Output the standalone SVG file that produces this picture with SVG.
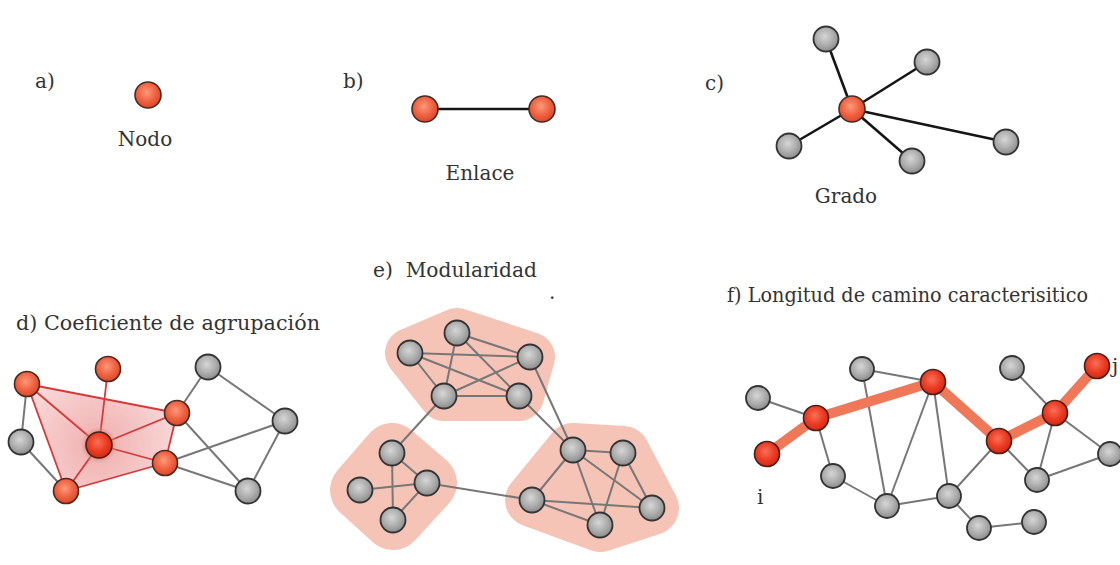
<svg xmlns="http://www.w3.org/2000/svg" width="1120" height="565" viewBox="0 0 1120 565">
<defs>
<radialGradient id="gRed" cx="45%" cy="40%" r="60%">
<stop offset="0" stop-color="#fb9a7a"/><stop offset="0.6" stop-color="#ef6040"/><stop offset="1" stop-color="#d9472a"/>
</radialGradient>
<radialGradient id="gHot" cx="45%" cy="40%" r="60%">
<stop offset="0" stop-color="#f87058"/><stop offset="0.6" stop-color="#ec3a22"/><stop offset="1" stop-color="#cf2a14"/>
</radialGradient>
<radialGradient id="gGray" cx="45%" cy="40%" r="60%">
<stop offset="0" stop-color="#d6d6d6"/><stop offset="0.6" stop-color="#acacac"/><stop offset="1" stop-color="#8c8c8c"/>
</radialGradient>
<radialGradient id="gShade" cx="99" cy="445" r="110" gradientUnits="userSpaceOnUse">
<stop offset="0" stop-color="#f1aeae"/><stop offset="1" stop-color="#fbe8e8"/>
</radialGradient>
<radialGradient id="gHalo">
<stop offset="0.6" stop-color="#c86a55" stop-opacity="0.8"/><stop offset="1" stop-color="#e8b0a0" stop-opacity="0"/>
</radialGradient>
</defs>
<style>
.t{font-family:"DejaVu Serif","Liberation Serif",serif;fill:#333;font-size:20px}
.r{fill:url(#gRed);stroke:#4a2a22;stroke-width:1.6}
.h{fill:url(#gHot);stroke:#4a2018;stroke-width:1.6}
.g{fill:url(#gGray);stroke:#333;stroke-width:1.8}
.bk{stroke:#151515;stroke-width:2.6;fill:none}
.gl{stroke:#777;stroke-width:2;fill:none}
.rl{stroke:#d83838;stroke-width:1.8;fill:none}
.pth{stroke:#f07858;stroke-width:10;stroke-linecap:round;stroke-linejoin:round;fill:none}
.blob{fill:#f5c4b6;stroke:#f5c4b6;stroke-linejoin:round}
</style>

<!-- labels -->
<g id="labels">
<text class="t" x="35" y="88">a)</text>
<text class="t" x="145" y="146" text-anchor="middle">Nodo</text>
<text class="t" x="343" y="88">b)</text>
<text class="t" x="480" y="180" text-anchor="middle">Enlace</text>
<text class="t" x="705" y="90">c)</text>
<text class="t" x="846" y="203" text-anchor="middle">Grado</text>
<text class="t" x="16" y="330" textLength="304" lengthAdjust="spacingAndGlyphs">d) Coeficiente de agrupación</text>
<text class="t" x="373" y="277" textLength="164" lengthAdjust="spacingAndGlyphs">e)&#160; Modularidad</text>
<text class="t" x="549" y="299" font-size="16">.</text>
<text class="t" x="727" y="302" textLength="361" lengthAdjust="spacingAndGlyphs">f) Longitud de camino caracterisitico</text>
<text class="t" x="112" y="439">i</text>
<text class="t" x="757" y="504">i</text>
<text class="t" x="1112" y="373">j</text>
</g>

<!-- blobs for modularity -->
<g id="modules">
<polygon class="blob" stroke-width="50" points="410,353 457,333 530,357 519,396 444,396"/>
<polygon class="blob" stroke-width="60" points="392,453 427,483 393,520 360,490"/>
<polygon class="blob" stroke-width="54" points="573,450 623,453 652,508 600,525 532,500"/>
</g>

<!-- clustering shade -->
<polygon id="shade" points="27,384 177,413 165,463 66,491" fill="url(#gShade)"/>

<g id="connectors">
<line class="bk" x1="425" y1="109" x2="542" y2="109"/>
<line class="bk" x1="852" y1="109" x2="826" y2="39"/>
<line class="bk" x1="852" y1="109" x2="927" y2="62"/>
<line class="bk" x1="852" y1="109" x2="789" y2="146"/>
<line class="bk" x1="852" y1="109" x2="912" y2="161"/>
<line class="bk" x1="852" y1="109" x2="1006" y2="142"/>
<line class="gl" x1="27" y1="384" x2="21" y2="442"/>
<line class="gl" x1="21" y1="442" x2="66" y2="491"/>
<line class="gl" x1="208" y1="367" x2="177" y2="413"/>
<line class="gl" x1="208" y1="367" x2="285" y2="421"/>
<line class="gl" x1="177" y1="413" x2="248" y2="491"/>
<line class="gl" x1="165" y1="463" x2="285" y2="421"/>
<line class="gl" x1="165" y1="463" x2="248" y2="491"/>
<line class="gl" x1="285" y1="421" x2="248" y2="491"/>
<line class="rl" x1="27" y1="384" x2="177" y2="413"/>
<line class="rl" x1="27" y1="384" x2="99" y2="445"/>
<line class="rl" x1="27" y1="384" x2="66" y2="491"/>
<line class="rl" x1="108" y1="369" x2="99" y2="445"/>
<line class="rl" x1="99" y1="445" x2="177" y2="413"/>
<line class="rl" x1="99" y1="445" x2="165" y2="463"/>
<line class="rl" x1="99" y1="445" x2="66" y2="491"/>
<line class="rl" x1="177" y1="413" x2="165" y2="463"/>
<line class="rl" x1="165" y1="463" x2="66" y2="491"/>
<line class="gl" x1="410" y1="353" x2="530" y2="357"/>
<line class="gl" x1="410" y1="353" x2="444" y2="396"/>
<line class="gl" x1="410" y1="353" x2="519" y2="396"/>
<line class="gl" x1="457" y1="333" x2="444" y2="396"/>
<line class="gl" x1="457" y1="333" x2="530" y2="357"/>
<line class="gl" x1="457" y1="333" x2="519" y2="396"/>
<line class="gl" x1="444" y1="396" x2="519" y2="396"/>
<line class="gl" x1="444" y1="396" x2="530" y2="357"/>
<line class="gl" x1="392" y1="453" x2="427" y2="483"/>
<line class="gl" x1="392" y1="453" x2="393" y2="520"/>
<line class="gl" x1="360" y1="490" x2="427" y2="483"/>
<line class="gl" x1="427" y1="483" x2="393" y2="520"/>
<line class="gl" x1="573" y1="450" x2="623" y2="453"/>
<line class="gl" x1="573" y1="450" x2="532" y2="500"/>
<line class="gl" x1="573" y1="450" x2="600" y2="525"/>
<line class="gl" x1="573" y1="450" x2="652" y2="508"/>
<line class="gl" x1="623" y1="453" x2="600" y2="525"/>
<line class="gl" x1="623" y1="453" x2="652" y2="508"/>
<line class="gl" x1="532" y1="500" x2="652" y2="508"/>
<line class="gl" x1="532" y1="500" x2="600" y2="525"/>
<line class="gl" x1="444" y1="396" x2="392" y2="453"/>
<line class="gl" x1="530" y1="357" x2="573" y2="450"/>
<line class="gl" x1="519" y1="396" x2="573" y2="450"/>
<line class="gl" x1="427" y1="483" x2="532" y2="500"/>
<line class="gl" x1="758" y1="398" x2="816" y2="418"/>
<line class="gl" x1="816" y1="418" x2="833" y2="476"/>
<line class="gl" x1="833" y1="476" x2="887" y2="506"/>
<line class="gl" x1="862" y1="369" x2="933" y2="382"/>
<line class="gl" x1="862" y1="369" x2="887" y2="506"/>
<line class="gl" x1="933" y1="382" x2="887" y2="506"/>
<line class="gl" x1="933" y1="382" x2="949" y2="496"/>
<line class="gl" x1="887" y1="506" x2="949" y2="496"/>
<line class="gl" x1="999" y1="441" x2="949" y2="496"/>
<line class="gl" x1="949" y1="496" x2="979" y2="528"/>
<line class="gl" x1="979" y1="528" x2="1034" y2="522"/>
<line class="gl" x1="999" y1="441" x2="1037" y2="480"/>
<line class="gl" x1="1012" y1="368" x2="1055" y2="413"/>
<line class="gl" x1="1055" y1="413" x2="1037" y2="480"/>
<line class="gl" x1="1055" y1="413" x2="1110" y2="454"/>
<line class="gl" x1="1037" y1="480" x2="1110" y2="454"/>
<polyline class="pth" points="767,454 816,418 933,382 999,441 1055,413 1097,366"/>
</g>

<g id="nodes">
<g id="a-node"><circle class="r" cx="148" cy="95" r="13"/></g>
<g id="b-n1"><circle class="r" cx="425" cy="109" r="13"/></g>
<g id="b-n2"><circle class="r" cx="542" cy="109" r="13"/></g>
<g id="c-hub"><circle class="r" cx="852" cy="109" r="13"/></g>
<g id="c-n1"><circle class="g" cx="826" cy="39" r="12.5"/></g>
<g id="c-n2"><circle class="g" cx="927" cy="62" r="12.5"/></g>
<g id="c-n3"><circle class="g" cx="789" cy="146" r="12.5"/></g>
<g id="c-n4"><circle class="g" cx="912" cy="161" r="12.5"/></g>
<g id="c-n5"><circle class="g" cx="1006" cy="142" r="12.5"/></g>
<g id="d-n1"><circle class="r" cx="27" cy="384" r="12.5"/></g>
<g id="d-n2"><circle class="r" cx="108" cy="369" r="12.5"/></g>
<g id="d-n3"><circle class="g" cx="208" cy="367" r="12.5"/></g>
<g id="d-n4"><circle class="r" cx="177" cy="413" r="12.5"/></g>
<g id="d-n5"><circle class="g" cx="285" cy="421" r="12.5"/></g>
<g id="d-n6"><circle class="g" cx="21" cy="442" r="12.5"/></g>
<g id="d-i"><circle cx="99" cy="445" r="19" fill="url(#gHalo)"/><circle class="h" cx="99" cy="445" r="13"/></g>
<g id="d-n7"><circle class="r" cx="165" cy="463" r="12.5"/></g>
<g id="d-n8"><circle class="r" cx="66" cy="491" r="12.5"/></g>
<g id="d-n9"><circle class="g" cx="248" cy="491" r="12.5"/></g>
<g id="e-n1"><circle class="g" cx="410" cy="353" r="12.5"/></g>
<g id="e-n2"><circle class="g" cx="457" cy="333" r="12.5"/></g>
<g id="e-n3"><circle class="g" cx="530" cy="357" r="12.5"/></g>
<g id="e-n4"><circle class="g" cx="444" cy="396" r="12.5"/></g>
<g id="e-n5"><circle class="g" cx="519" cy="396" r="12.5"/></g>
<g id="e-n6"><circle class="g" cx="392" cy="453" r="12.5"/></g>
<g id="e-n7"><circle class="g" cx="360" cy="490" r="12.5"/></g>
<g id="e-n8"><circle class="g" cx="427" cy="483" r="12.5"/></g>
<g id="e-n9"><circle class="g" cx="393" cy="520" r="12.5"/></g>
<g id="e-n10"><circle class="g" cx="573" cy="450" r="12.5"/></g>
<g id="e-n11"><circle class="g" cx="623" cy="453" r="12.5"/></g>
<g id="e-n12"><circle class="g" cx="532" cy="500" r="12.5"/></g>
<g id="e-n13"><circle class="g" cx="600" cy="525" r="12.5"/></g>
<g id="e-n14"><circle class="g" cx="652" cy="508" r="12.5"/></g>
<g id="f-a"><circle class="g" cx="758" cy="398" r="12"/></g>
<g id="f-i"><circle class="h" cx="767" cy="454" r="12.5"/></g>
<g id="f-p2"><circle class="h" cx="816" cy="418" r="12.5"/></g>
<g id="f-b"><circle class="g" cx="862" cy="369" r="12"/></g>
<g id="f-p3"><circle class="h" cx="933" cy="382" r="12.5"/></g>
<g id="f-c"><circle class="g" cx="833" cy="476" r="12"/></g>
<g id="f-d"><circle class="g" cx="887" cy="506" r="12"/></g>
<g id="f-e"><circle class="g" cx="949" cy="496" r="12"/></g>
<g id="f-f"><circle class="g" cx="979" cy="528" r="12"/></g>
<g id="f-g"><circle class="g" cx="1034" cy="522" r="12"/></g>
<g id="f-p4"><circle class="h" cx="999" cy="441" r="12.5"/></g>
<g id="f-h"><circle class="g" cx="1012" cy="368" r="12"/></g>
<g id="f-p5"><circle class="h" cx="1055" cy="413" r="12.5"/></g>
<g id="f-j"><circle class="h" cx="1097" cy="366" r="12.5"/></g>
<g id="f-k"><circle class="g" cx="1037" cy="480" r="12"/></g>
<g id="f-l"><circle class="g" cx="1110" cy="454" r="12"/></g>
</g>
</svg>
